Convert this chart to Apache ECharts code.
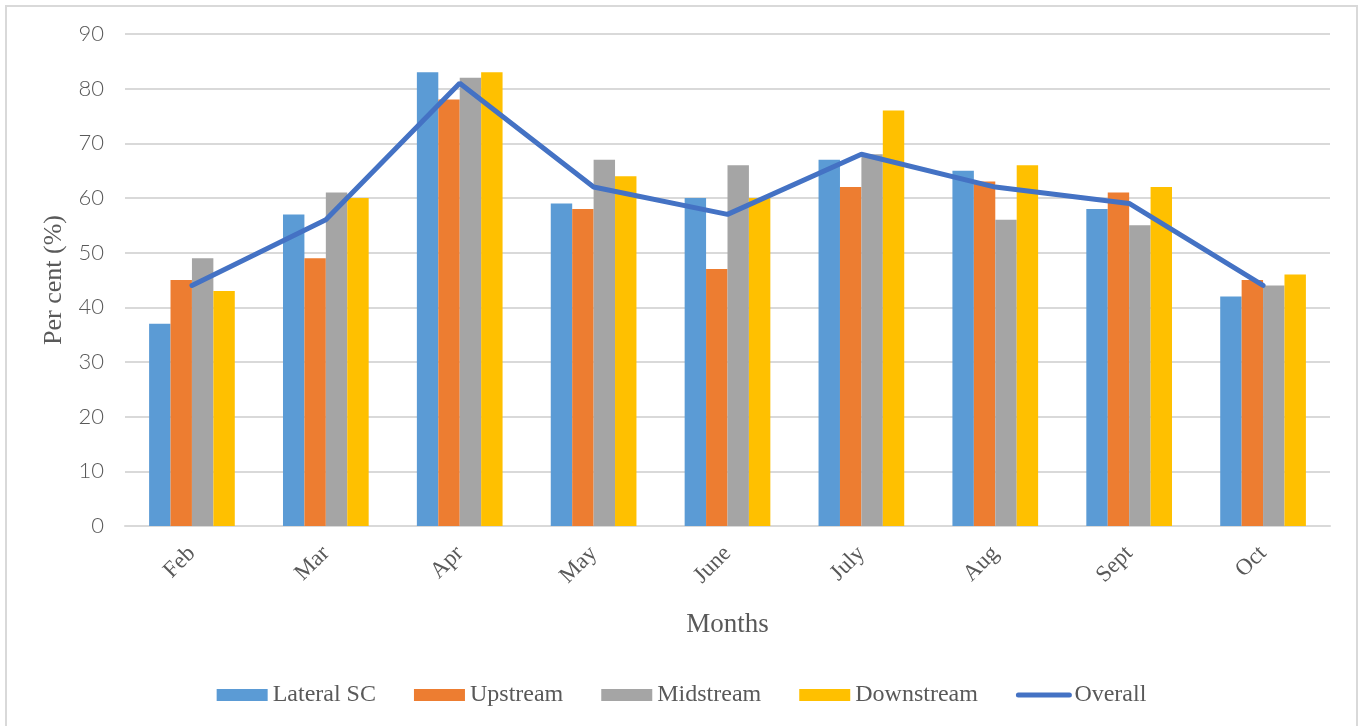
<!DOCTYPE html>
<html>
<head>
<meta charset="utf-8">
<script src="https://cdn.jsdelivr.net/npm/echarts@6/dist/echarts.min.js"></script>
<style>
  html, body { margin: 0; padding: 0; background: #fff; }
  #frame { position: absolute; left: 5px; top: 5px; width: 1353px; height: 730px; border: 2px solid #d9d9d9; box-sizing: border-box; }
  #charts { position: absolute; left: 0; top: 0; width: 1363px; height: 726px; }
</style>
</head>
<body>
<div id="frame"></div>
<div id="charts"></div>
<script>
// monthly percentages by site
var months = ['Feb', 'Mar', 'Apr', 'May', 'June', 'July', 'Aug', 'Sept', 'Oct'];
var lateralSC = [37, 57, 83, 59, 60, 67, 65, 58, 42];
var upstream = [45, 49, 78, 58, 47, 62, 63, 61, 45];
var midstream = [49, 61, 82, 67, 66, 68, 56, 55, 44];
var downstream = [43, 60, 83, 64, 60, 76, 66, 62, 46];
var overall = [44, 56, 81, 62, 57, 68, 62, 59, 44];

var font = 'Liberation Serif';
var textColor = '#595959';

var myChart = echarts.init(document.getElementById('charts'));

function bar(name, data, color) {
    return {
        name: name,
        type: 'bar',
        data: data,
        barGap: '0%',
        barCategoryGap: '36%',
        itemStyle: { color: color }
    };
}

myChart.setOption({
    animation: false,
    grid: {
        left: 125,
        right: 33,
        top: 34,
        bottom: 200
    },
    legend: {
        top: 678,
        left: 'center',
        itemWidth: 51,
        itemHeight: 12,
        itemGap: 38,
        textStyle: { fontFamily: font, fontSize: 24, color: textColor },
        data: [
            { name: 'Lateral SC', icon: 'rect' },
            { name: 'Upstream', icon: 'rect' },
            { name: 'Midstream', icon: 'rect' },
            { name: 'Downstream', icon: 'rect' },
            { name: 'Overall', itemStyle: { opacity: 0 }, lineStyle: { width: 5, cap: 'round' } }
        ]
    },
    xAxis: {
        type: 'category',
        data: months,
        name: 'Months',
        nameLocation: 'middle',
        nameGap: 85,
        nameTextStyle: { fontFamily: font, fontSize: 27, color: textColor },
        axisLine: { lineStyle: { color: '#d9d9d9', width: 2 } },
        axisTick: { show: false },
        axisLabel: {
            rotate: 45,
            margin: 24,
            fontFamily: font,
            fontSize: 23,
            color: textColor
        }
    },
    yAxis: {
        type: 'value',
        min: 0,
        max: 90,
        interval: 10,
        name: 'Per cent (%)',
        nameLocation: 'middle',
        nameGap: 52,
        nameTextStyle: { fontFamily: font, fontSize: 26, color: textColor },
        axisLine: { show: false },
        axisTick: { show: false },
        axisLabel: { margin: 21, fontFamily: 'Lato', fontWeight: 300, fontSize: 22, color: textColor },
        splitLine: { lineStyle: { color: '#d9d9d9', width: 2 } }
    },
    series: [
        bar('Lateral SC', lateralSC, '#5B9BD5'),
        bar('Upstream', upstream, '#ED7D31'),
        bar('Midstream', midstream, '#A5A5A5'),
        bar('Downstream', downstream, '#FFC000'),
        {
            name: 'Overall',
            type: 'line',
            data: overall,
            symbol: 'none',
            lineStyle: { color: '#4472C4', width: 5, cap: 'round' },
            itemStyle: { color: '#4472C4' },
            z: 5
        }
    ]
});
</script>
</body>
</html>
